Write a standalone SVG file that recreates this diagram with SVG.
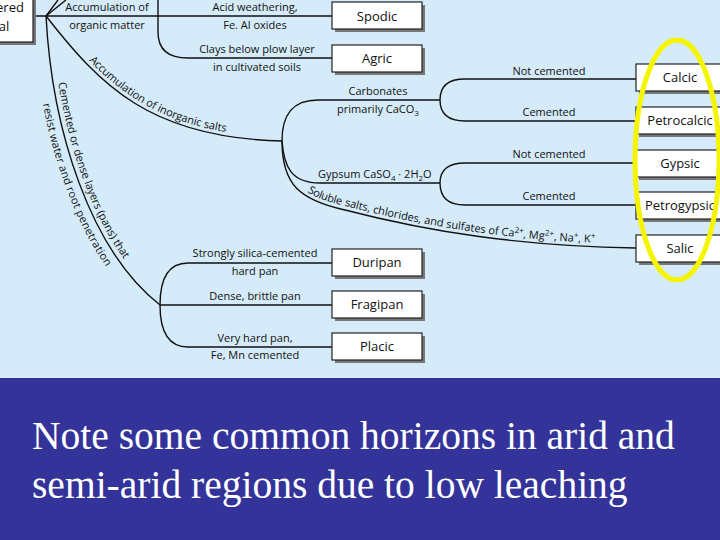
<svg xmlns="http://www.w3.org/2000/svg" xmlns:xlink="http://www.w3.org/1999/xlink" width="720" height="540" viewBox="0 0 720 540">
<style>
.bx{fill:#fff;stroke:#222;stroke-width:1.2}
.sh{fill:#777}
.ln{fill:none;stroke:#111;stroke-width:1.4}
.t{font-family:"Open Sans","DejaVu Sans",sans-serif;font-size:11px;fill:#111}
.bt{font-family:"Open Sans","DejaVu Sans",sans-serif;font-size:13px;fill:#111;text-anchor:middle}
.m{text-anchor:middle}
.big{font-family:"Liberation Serif",serif;font-size:39.5px;fill:#fff}
</style>
<defs>
<path id="pIn" d="M46,16 C100,85 150,138 282,141"/>
<path id="pCe" d="M46,16 C52,130 90,250 160,305"/>
<path id="pSo" d="M282,141 C282,185 300,200 345,210 C430,232 520,246 636,248"/>
</defs>
<rect width="720" height="378" fill="#d5ebf9"/>
<rect y="378" width="720" height="162" fill="#333399"/>
<g id="connectors">
<path class="ln" d="M33,16 L332,16 M46,16 L58,0 M46,16 L66,0"/>
<path class="ln" d="M158,0 L158,32 C158,50 168,58 188,58 L332,58"/>
<use xlink:href="#pIn" class="ln"/>
<use xlink:href="#pCe" class="ln"/>
<use xlink:href="#pSo" class="ln"/>
<path class="ln" d="M282,141 C282,115 292,100 318,100 L440,100 M440,100 C440,88 446,79 465,79 L636,79 M440,100 C440,112 446,121 465,121 L636,121"/>
<path class="ln" d="M282,141 C284,168 292,183 320,183 L440,183 M440,183 C440,171 446,163 465,163 L636,163 M440,183 C440,195 446,205 465,205 L636,205"/>
<path class="ln" d="M160,305 C160,280 168,263 188,263 L332,263 M160,305 L332,305 M160,305 C160,330 168,347 188,347 L332,347"/>
</g>
<g id="labels">
<text class="t m" x="107" y="11">Accumulation of</text>
<text class="t m" x="107" y="29">organic matter</text>
<text class="t m" x="255" y="11">Acid weathering,</text>
<text class="t m" x="255" y="29">Fe. Al oxides</text>
<text class="t m" x="257" y="53">Clays below plow layer</text>
<text class="t m" x="257" y="71">in cultivated soils</text>
<text class="t m" x="378" y="95">Carbonates</text>
<text class="t m" x="378" y="113">primarily CaCO<tspan font-size="8" dy="3">3</tspan></text>
<text class="t m" x="549" y="75">Not cemented</text>
<text class="t m" x="549" y="116">Cemented</text>
<text class="t" x="318" y="178">Gypsum CaSO<tspan font-size="8" dy="3">4</tspan><tspan dy="-3"> · 2H</tspan><tspan font-size="8" dy="3">2</tspan><tspan dy="-3">O</tspan></text>
<text class="t m" x="549" y="158">Not cemented</text>
<text class="t m" x="549" y="200">Cemented</text>
<text class="t"><textPath xlink:href="#pIn" startOffset="62"><tspan dy="-4">Accumulation of inorganic salts</tspan></textPath></text>
<text class="t"><textPath xlink:href="#pCe" startOffset="68"><tspan dy="-5">Cemented or dense layers (pans) that</tspan></textPath></text>
<text class="t"><textPath xlink:href="#pCe" startOffset="86"><tspan dy="14">resist water and root penetration</tspan></textPath></text>
<text class="t"><textPath xlink:href="#pSo" startOffset="62"><tspan dy="-4">Soluble salts, chlorides, and sulfates of Ca<tspan font-size="8" dy="-4">2+</tspan><tspan dy="4">, Mg</tspan><tspan font-size="8" dy="-4">2+</tspan><tspan dy="4">, Na</tspan><tspan font-size="8" dy="-4">+</tspan><tspan dy="4">, K</tspan><tspan font-size="8" dy="-4">+</tspan></tspan></textPath></text>
<text class="t m" x="255" y="257">Strongly silica-cemented</text>
<text class="t m" x="255" y="275">hard pan</text>
<text class="t m" x="255" y="300">Dense, brittle pan</text>
<text class="t m" x="255" y="342">Very hard pan,</text>
<text class="t m" x="255" y="359">Fe, Mn cemented</text>
</g>
<g id="n-parent"><rect class="sh" x="-47" y="-7" width="83" height="52"/><rect class="bx" x="-50" y="-10" width="83" height="52"/><text class="bt" x="10" y="12">ered</text><text class="bt" x="4" y="31">al</text></g>
<g id="n-spodic"><rect class="sh" x="335" y="5" width="90" height="27"/><rect class="bx" x="332" y="2" width="90" height="27"/><text class="bt" x="377" y="21">Spodic</text></g>
<g id="n-agric"><rect class="sh" x="335" y="48" width="90" height="27"/><rect class="bx" x="332" y="45" width="90" height="27"/><text class="bt" x="377" y="63">Agric</text></g>
<g id="n-calcic"><rect class="sh" x="639" y="67" width="90" height="27"/><rect class="bx" x="636" y="64" width="90" height="27"/><text class="bt" x="680" y="82">Calcic</text></g>
<g id="n-petrocalcic"><rect class="sh" x="639" y="110" width="90" height="27"/><rect class="bx" x="636" y="107" width="90" height="27"/><text class="bt" x="680" y="125">Petrocalcic</text></g>
<g id="n-gypsic"><rect class="sh" x="639" y="153" width="90" height="27"/><rect class="bx" x="636" y="150" width="90" height="27"/><text class="bt" x="680" y="168">Gypsic</text></g>
<g id="n-petrogypsic"><rect class="sh" x="639" y="195" width="90" height="27"/><rect class="bx" x="636" y="192" width="90" height="27"/><text class="bt" x="680" y="210">Petrogypsic</text></g>
<g id="n-salic"><rect class="sh" x="639" y="238" width="90" height="27"/><rect class="bx" x="636" y="235" width="90" height="27"/><text class="bt" x="680" y="253">Salic</text></g>
<g id="n-duripan"><rect class="sh" x="335" y="252" width="90" height="27"/><rect class="bx" x="332" y="249" width="90" height="27"/><text class="bt" x="377" y="267">Duripan</text></g>
<g id="n-fragipan"><rect class="sh" x="335" y="294" width="90" height="27"/><rect class="bx" x="332" y="291" width="90" height="27"/><text class="bt" x="377" y="309">Fragipan</text></g>
<g id="n-placic"><rect class="sh" x="335" y="336" width="90" height="27"/><rect class="bx" x="332" y="333" width="90" height="27"/><text class="bt" x="377" y="351">Placic</text></g>
<ellipse cx="677" cy="160" rx="42" ry="120" fill="none" stroke="#f5f500" stroke-width="5"/>
<text class="big" x="32" y="449">Note some common horizons in arid and</text>
<text class="big" x="32" y="498">semi-arid regions due to low leaching</text>
</svg>
